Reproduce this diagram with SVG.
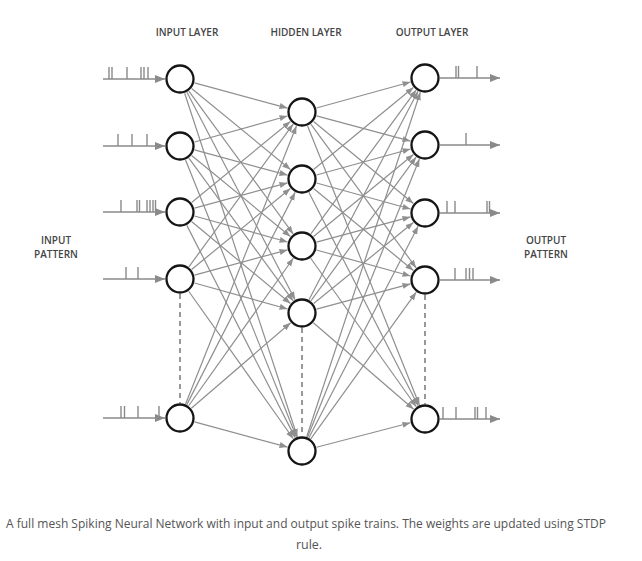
<svg xmlns="http://www.w3.org/2000/svg" width="642" height="561" viewBox="0 0 642 561">
<style>
.e{stroke:#8f8f8f;stroke-width:1.2;fill:none;marker-end:url(#ah)}
.io{stroke:#8a8a8a;stroke-width:1.6;fill:none;marker-end:url(#ah2)}
.sp{stroke:#8a8a8a;stroke-width:1.4}
.n{fill:#fff;stroke:#151515;stroke-width:2.3}
.d{stroke:#555;stroke-width:1.2;stroke-dasharray:5 4}
.lbl{font-family:"Open Sans","Liberation Sans",sans-serif;font-weight:600;font-size:10px;fill:#444;text-anchor:middle}
.cap{font-family:"Open Sans","Liberation Sans",sans-serif;font-size:12.5px;fill:#555;text-anchor:middle}
</style>
<defs>
<marker id="ah" markerUnits="userSpaceOnUse" markerWidth="9" markerHeight="7" refX="8" refY="3" orient="auto"><path d="M0,0 L8,3 L0,6 z" fill="#8f8f8f"/></marker>
<marker id="ah2" markerUnits="userSpaceOnUse" markerWidth="11" markerHeight="9" refX="10" refY="4" orient="auto"><path d="M0,0 L10,4 L0,8 z" fill="#8a8a8a"/></marker>
</defs>
<rect width="642" height="561" fill="#fff"/>
<g id="labels">
<text class="lbl" x="187" y="36">INPUT LAYER</text>
<text class="lbl" x="306" y="36">HIDDEN LAYER</text>
<text class="lbl" x="432" y="36">OUTPUT LAYER</text>
<text class="lbl" x="56" y="244">INPUT</text>
<text class="lbl" x="56" y="258">PATTERN</text>
<text class="lbl" x="546" y="244">OUTPUT</text>
<text class="lbl" x="546" y="258">PATTERN</text>
</g>
<g id="connectors">
<line class="e" x1="194.48" y1="82.92" x2="287.52" y2="108.08"/>
<line class="e" x1="191.60" y1="88.51" x2="290.40" y2="169.49"/>
<line class="e" x1="188.85" y1="91.11" x2="293.15" y2="233.89"/>
<line class="e" x1="186.93" y1="92.30" x2="295.07" y2="299.70"/>
<line class="e" x1="184.67" y1="93.25" x2="297.33" y2="436.75"/>
<line class="e" x1="194.45" y1="141.97" x2="287.55" y2="116.03"/>
<line class="e" x1="194.48" y1="149.92" x2="287.52" y2="175.08"/>
<line class="e" x1="191.60" y1="155.51" x2="290.40" y2="236.49"/>
<line class="e" x1="188.85" y1="158.11" x2="293.15" y2="300.89"/>
<line class="e" x1="185.57" y1="159.93" x2="296.43" y2="437.07"/>
<line class="e" x1="191.60" y1="202.49" x2="290.40" y2="121.51"/>
<line class="e" x1="194.48" y1="208.08" x2="287.52" y2="182.92"/>
<line class="e" x1="194.45" y1="216.03" x2="287.55" y2="241.97"/>
<line class="e" x1="191.55" y1="221.57" x2="290.45" y2="303.43"/>
<line class="e" x1="186.82" y1="225.36" x2="295.18" y2="437.64"/>
<line class="e" x1="188.85" y1="266.89" x2="293.15" y2="124.11"/>
<line class="e" x1="191.60" y1="269.49" x2="290.40" y2="188.51"/>
<line class="e" x1="194.48" y1="275.08" x2="287.52" y2="249.92"/>
<line class="e" x1="194.45" y1="283.03" x2="287.55" y2="308.97"/>
<line class="e" x1="188.68" y1="291.24" x2="293.32" y2="438.76"/>
<line class="e" x1="185.56" y1="404.07" x2="296.44" y2="125.93"/>
<line class="e" x1="186.82" y1="404.64" x2="295.18" y2="192.36"/>
<line class="e" x1="188.68" y1="405.76" x2="293.32" y2="258.24"/>
<line class="e" x1="191.37" y1="408.21" x2="290.63" y2="322.79"/>
<line class="e" x1="194.48" y1="421.92" x2="287.52" y2="447.08"/>
<line class="e" x1="316.46" y1="108.00" x2="410.54" y2="82.00"/>
<line class="e" x1="316.49" y1="115.89" x2="410.51" y2="141.11"/>
<line class="e" x1="313.59" y1="121.52" x2="413.41" y2="203.48"/>
<line class="e" x1="310.86" y1="124.10" x2="416.14" y2="267.90"/>
<line class="e" x1="307.58" y1="125.92" x2="419.42" y2="405.08"/>
<line class="e" x1="313.59" y1="169.48" x2="413.41" y2="87.52"/>
<line class="e" x1="316.46" y1="175.00" x2="410.54" y2="149.00"/>
<line class="e" x1="316.46" y1="183.00" x2="410.54" y2="209.00"/>
<line class="e" x1="313.59" y1="188.52" x2="413.41" y2="270.48"/>
<line class="e" x1="308.84" y1="192.35" x2="418.16" y2="405.65"/>
<line class="e" x1="310.86" y1="233.90" x2="416.14" y2="90.10"/>
<line class="e" x1="313.59" y1="236.48" x2="413.41" y2="154.52"/>
<line class="e" x1="316.49" y1="242.11" x2="410.51" y2="216.89"/>
<line class="e" x1="316.46" y1="250.00" x2="410.54" y2="276.00"/>
<line class="e" x1="310.69" y1="258.23" x2="416.31" y2="406.77"/>
<line class="e" x1="308.96" y1="299.71" x2="418.04" y2="91.29"/>
<line class="e" x1="310.86" y1="300.90" x2="416.14" y2="157.10"/>
<line class="e" x1="313.64" y1="303.54" x2="413.36" y2="222.46"/>
<line class="e" x1="316.49" y1="309.11" x2="410.51" y2="283.89"/>
<line class="e" x1="313.36" y1="322.79" x2="413.64" y2="409.21"/>
<line class="e" x1="306.70" y1="436.75" x2="420.30" y2="92.25"/>
<line class="e" x1="307.59" y1="437.08" x2="419.41" y2="158.92"/>
<line class="e" x1="308.89" y1="437.67" x2="418.11" y2="226.33"/>
<line class="e" x1="310.76" y1="438.82" x2="416.24" y2="292.18"/>
<line class="e" x1="316.52" y1="447.22" x2="410.48" y2="422.78"/>
<line class="d" x1="180" y1="294" x2="180" y2="403"/>
<line class="d" x1="302" y1="328" x2="302" y2="436"/>
<line class="d" x1="425" y1="295" x2="425" y2="404"/>
<line class="io" x1="103" y1="79" x2="165" y2="79"/>
<line class="io" x1="103" y1="146" x2="165" y2="146"/>
<line class="io" x1="103" y1="212" x2="165" y2="212"/>
<line class="io" x1="103" y1="279" x2="165" y2="279"/>
<line class="io" x1="103" y1="418" x2="165" y2="418"/>
<line class="io" x1="440" y1="78" x2="500" y2="78"/>
<line class="io" x1="440" y1="145" x2="500" y2="145"/>
<line class="io" x1="440" y1="213" x2="500" y2="213"/>
<line class="io" x1="440" y1="280" x2="500" y2="280"/>
<line class="io" x1="440" y1="419" x2="500" y2="419"/>
</g>
<g id="spikes" class="sp">
<path class="sp" d="M109,79v-12M112,79v-12M127,79v-12M141,79v-12M144,79v-12M148,79v-12"/>
<path class="sp" d="M118,146v-12M132,146v-12M147,146v-12"/>
<path class="sp" d="M121,212v-12M137,212v-12M139.5,212v-12M147,212v-12M150,212v-12M153,212v-12M155.5,212v-12"/>
<path class="sp" d="M126,279v-12M138,279v-12"/>
<path class="sp" d="M121,418v-12M124.5,418v-12M138,418v-12M159,418v-12"/>
<path class="sp" d="M456,78v-12M458.5,78v-12M477,78v-12"/>
<path class="sp" d="M466,145v-12"/>
<path class="sp" d="M447,213v-12M455,213v-12M487,213v-12M489.5,213v-12"/>
<path class="sp" d="M455,280v-12M466,280v-12M469.5,280v-12M473,280v-12"/>
<path class="sp" d="M443,419v-12M456,419v-12M475,419v-12M477.5,419v-12M486,419v-12"/>
</g>
<g id="in1"><circle class="n" cx="180" cy="79" r="13.5"/></g>
<g id="in2"><circle class="n" cx="180" cy="146" r="13.5"/></g>
<g id="in3"><circle class="n" cx="180" cy="212" r="13.5"/></g>
<g id="in4"><circle class="n" cx="180" cy="279" r="13.5"/></g>
<g id="in5"><circle class="n" cx="180" cy="418" r="13.5"/></g>
<g id="h1"><circle class="n" cx="302" cy="112" r="13.5"/></g>
<g id="h2"><circle class="n" cx="302" cy="179" r="13.5"/></g>
<g id="h3"><circle class="n" cx="302" cy="246" r="13.5"/></g>
<g id="h4"><circle class="n" cx="302" cy="313" r="13.5"/></g>
<g id="h5"><circle class="n" cx="302" cy="451" r="13.5"/></g>
<g id="out1"><circle class="n" cx="425" cy="78" r="13.5"/></g>
<g id="out2"><circle class="n" cx="425" cy="145" r="13.5"/></g>
<g id="out3"><circle class="n" cx="425" cy="213" r="13.5"/></g>
<g id="out4"><circle class="n" cx="425" cy="280" r="13.5"/></g>
<g id="out5"><circle class="n" cx="425" cy="419" r="13.5"/></g>
<g id="caption">
<text class="cap" x="306" y="528" textLength="600" lengthAdjust="spacingAndGlyphs">A full mesh Spiking Neural Network with input and output spike trains. The weights are updated using STDP</text>
<text class="cap" x="309" y="549">rule.</text>
</g>
</svg>
